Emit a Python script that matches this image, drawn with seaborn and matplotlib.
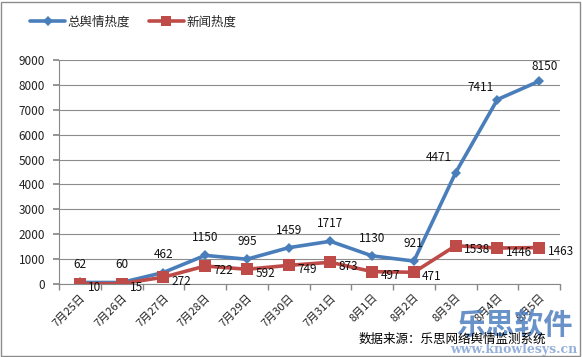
import matplotlib
matplotlib.use("Agg")
import matplotlib.pyplot as plt
import seaborn as sns
import pandas as pd
import numpy as np
from matplotlib.patches import Rectangle

dates = ["7月25日", "7月26日", "7月27日", "7月28日", "7月29日", "7月30日",
         "7月31日", "8月1日", "8月2日", "8月3日", "8月4日", "8月5日"]
total_heat = [62, 60, 462, 1150, 995, 1459, 1717, 1130, 921, 4471, 7411, 8150]
news_heat = [10, 15, 272, 722, 592, 749, 873, 497, 471, 1538, 1446, 1463]
series_names = ["总舆情热度", "新闻热度"]
y_ticks = list(range(0, 9001, 1000))

sns.set_theme(style="white")
plt.rcParams['font.family'] = ['Noto Sans CJK SC', 'DejaVu Sans']

df = pd.DataFrame({
    "date": dates * 2,
    "x": list(range(len(dates))) * 2,
    "value": total_heat + news_heat,
    "series": [series_names[0]] * len(dates) + [series_names[1]] * len(dates),
})

fig = plt.figure(figsize=(5.82, 3.57), dpi=100)
ax = fig.add_axes([59/582, 1-284/357, (560-59)/582, (284-60)/357])

blue = "#4A7EBB"
red = "#BE4B48"
sns.lineplot(data=df, x="x", y="value", hue="series", style="series",
             palette={series_names[0]: blue, series_names[1]: red},
             markers={series_names[0]: "D", series_names[1]: "s"},
             dashes=False, linewidth=2.6, ax=ax, legend=False,
             markersize=6, markeredgewidth=0)
# enlarge red squares
for ln in ax.lines:
    if ln.get_marker() == "s":
        ln.set_markersize(8)
    else:
        ln.set_markersize(5.5)

ax.set_xlim(-0.5, len(dates) - 0.5)
ax.set_ylim(0, 9000)
ax.set_yticks(y_ticks)
ax.set_yticklabels([str(v) for v in y_ticks], fontsize=8.5, color="#222222")
ax.set_xticks(np.arange(len(dates)))
ax.set_xticklabels(dates, rotation=45, ha="right", rotation_mode="anchor", fontsize=8, color="#222222")
ax.tick_params(axis="x", length=0, pad=6)
ax.set_xticks(np.arange(-0.5, len(dates)), minor=True)
ax.tick_params(axis="x", which="minor", length=4, color="#888888", direction="out", bottom=True)
ax.tick_params(axis="y", length=4, color="#888888", direction="out", left=True, pad=6)
ax.set_xlabel("")
ax.set_ylabel("")
ax.grid(axis="y", color="#8c8c8c", linewidth=0.8)
ax.set_axisbelow(True)
for s in ["top", "right"]:
    ax.spines[s].set_visible(False)
for s in ["left", "bottom"]:
    ax.spines[s].set_color("#888888")
    ax.spines[s].set_linewidth(0.8)

# data labels
blue_off = {9: (-12, 6), 10: (-12, 4), 11: (4, 6)}
for i, v in enumerate(total_heat):
    dx, dy = blue_off.get(i, (0, 8))
    ax.annotate(str(v), (i, v), xytext=(dx, dy), textcoords="offset points",
                ha="center", va="bottom", fontsize=8.5, color="#111111")
for i, v in enumerate(news_heat):
    ax.annotate(str(v), (i, v), xytext=(6, -3), textcoords="offset points",
                ha="left", va="center", fontsize=8.5, color="#111111")

# legend
from matplotlib.lines import Line2D
handles = [Line2D([], [], color=blue, marker="D", markersize=5, linewidth=2.6, markeredgewidth=0),
           Line2D([], [], color=red, marker="s", markersize=7, linewidth=2.6, markeredgewidth=0)]
fig.legend(handles, series_names, loc="center left", bbox_to_anchor=(25/582, 1-22/357),
           ncol=2, frameon=False, fontsize=9, handlelength=2.8, handletextpad=0.2,
           columnspacing=1.5, borderaxespad=0)

# watermark & source
fig.text(514/582, 1-325/357, "乐思软件", ha="center", va="center", fontsize=21,
         fontweight="bold", color="#4F7FC0", alpha=0.85)
fig.text(514/582, 1-349/357, "www.knowlesys.cn", ha="center", va="center", fontsize=9,
         family="DejaVu Serif", fontweight="bold", color="#8AA8D6", alpha=0.9)
fig.text(452/582, 1-339/357, "数据来源：乐思网络舆情监测系统", ha="center", va="center",
         fontsize=9, color="#000000")

# figure border
fig.patches.append(Rectangle((1/582, 1/357), 579/582, 354/357, transform=fig.transFigure,
                             fill=False, edgecolor="#8c8c8c", linewidth=1))

fig.savefig("out.png", dpi=100)
